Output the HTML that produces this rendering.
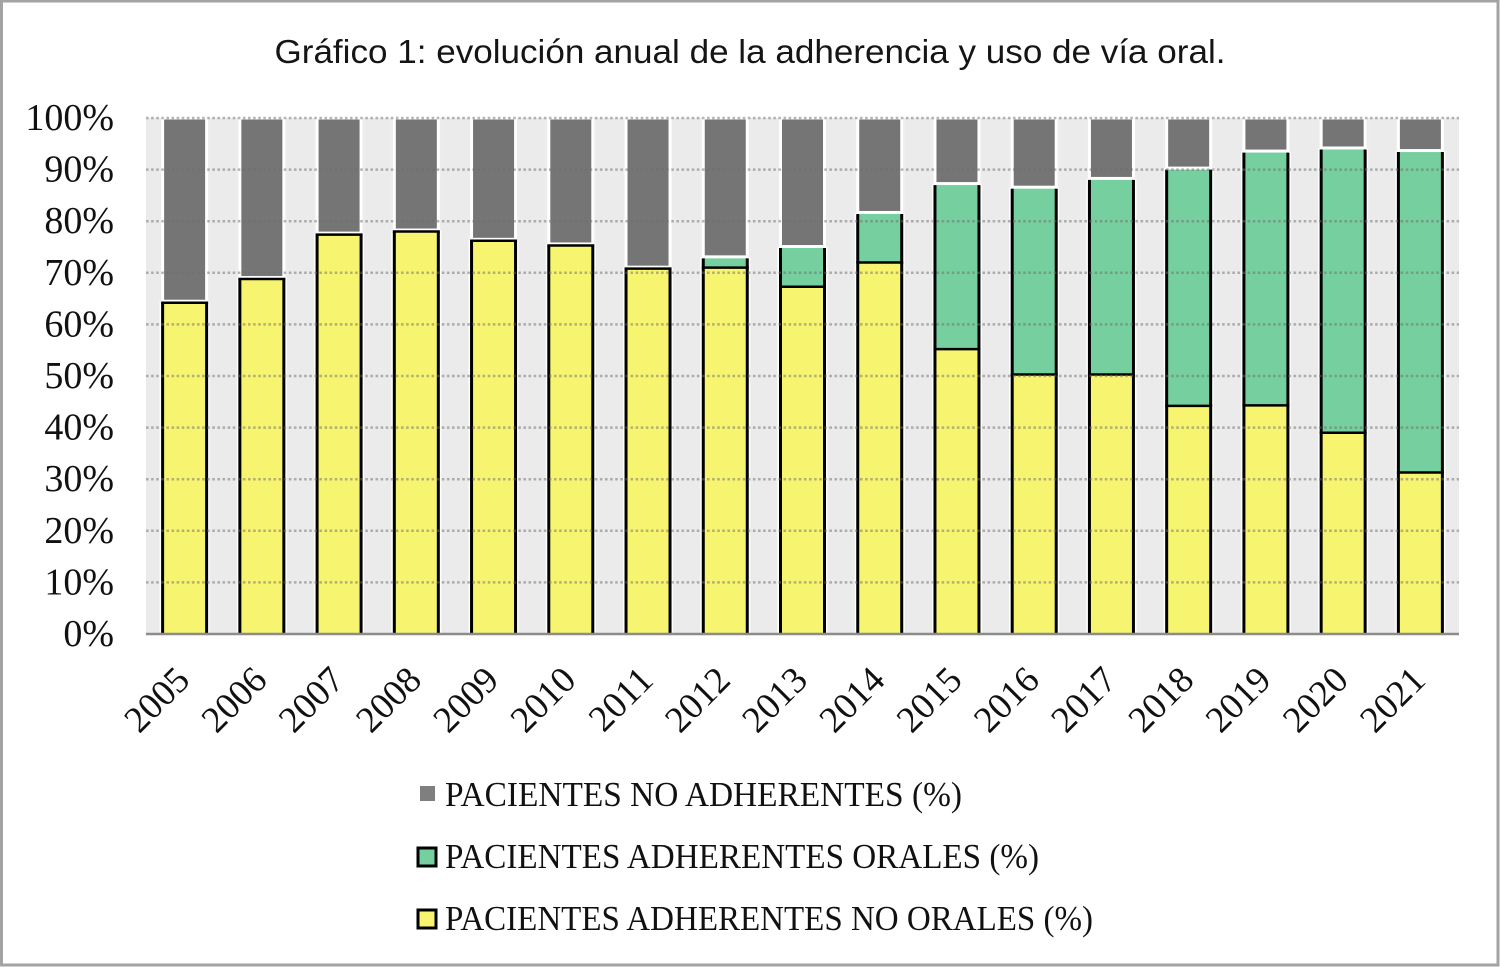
<!DOCTYPE html>
<html lang="es">
<head>
<meta charset="utf-8">
<title>Gráfico 1</title>
<style>
html,body{margin:0;padding:0;background:#fff;width:1500px;height:967px;overflow:hidden}
svg{display:block}
.tick{font-family:"Liberation Serif",serif;font-size:38px;fill:#111}
.xtick{font-family:"Liberation Serif",serif;font-size:37px;fill:#111}
.title{font-family:"Liberation Sans",sans-serif;font-size:33px;fill:#151515}
.legend{font-family:"Liberation Serif",serif;font-size:35px;fill:#111}
</style>
</head>
<body>
<svg id="chart" width="1500" height="967" viewBox="0 0 1500 967" xmlns="http://www.w3.org/2000/svg">
  <rect x="1.5" y="1" width="1496.5" height="964" fill="#fff" stroke="#a3a3a3" stroke-width="3"/>
  <text class="title" x="750" y="63" text-anchor="middle" textLength="951" lengthAdjust="spacingAndGlyphs">Gráfico 1: evolución anual de la adherencia y uso de vía oral.</text>
  <g id="plot"></g>
  <g>
    <g>
      <rect x="420" y="786" width="15" height="15" fill="#7f7f7f"/>
      <text class="legend" x="445" y="806" textLength="517" lengthAdjust="spacingAndGlyphs">PACIENTES NO ADHERENTES (%)</text>
    </g>
    <g>
      <rect x="418" y="848" width="18" height="18" fill="#76cf9f" stroke="#000" stroke-width="3"/>
      <text class="legend" x="445" y="868" textLength="594" lengthAdjust="spacingAndGlyphs">PACIENTES ADHERENTES ORALES (%)</text>
    </g>
    <g>
      <rect x="418" y="910" width="18" height="18" fill="#f7f570" stroke="#000" stroke-width="3"/>
      <text class="legend" x="445" y="930" textLength="648" lengthAdjust="spacingAndGlyphs">PACIENTES ADHERENTES NO ORALES (%)</text>
    </g>
  </g>
</svg>
<script>
const years = ['2005','2006','2007','2008','2009','2010','2011','2012','2013','2014','2015','2016','2017','2018','2019','2020','2021'];
const noOrales = [64.2,68.8,77.4,78,76.2,75.3,70.8,71,67.3,72,55.2,50.3,50.3,44.2,44.3,39,31.3];
const orales = [0,0,0,0,0,0,0,1.8,7.5,9.4,31.8,36,37.7,45.8,49,54.9,62.1];
const noAdherentes = [35.8,31.2,22.6,22,23.8,24.7,29.2,27.2,25.2,18.6,13,13.7,12,10,6.7,6.1,6.6];
const yTicks = [0,10,20,30,40,50,60,70,80,90,100];

const plot = document.getElementById('plot');
const NS = 'http://www.w3.org/2000/svg';
const left = 146, right = 1459, top0 = 118, bottom = 634;
const band = (right - left) / years.length;
const xCenter = i => left + band * (i + 0.5);
const yScale = v => bottom - (v / 100) * (bottom - top0);

function add(tag, attrs, parent) {
  const el = document.createElementNS(NS, tag);
  for (const k in attrs) el.setAttribute(k, attrs[k]);
  (parent || plot).appendChild(el);
  return el;
}

const bg = add('rect', {x: left, y: top0, width: right - left, height: bottom - top0, fill: '#ebebeb'});



years.forEach((year, i) => {
  const cx = xCenter(i);
  const g = add('g', {});
  
  

  const y1 = yScale(noOrales[i]);
  const y2 = yScale(noOrales[i] + orales[i]);
  const y3 = yScale(noOrales[i] + orales[i] + noAdherentes[i]);
  const halfOuter = 23.5, halfFill = 20.5, stroke = 3;

  const halo = add('rect', {x: cx - halfOuter - 1.5, y: top0, width: 2 * halfOuter + 3, height: bottom - top0, fill: '#fff'}, g);
  
  

  const grayHalo = add('rect', {x: cx - halfOuter - 1.5, y: top0, width: 1.5, height: Math.max(0, y2 - top0 - 1), fill: '#ebebeb'}, g);
  
  
  const grayHaloRight = add('rect', {x: cx + halfOuter, y: top0, width: 1.5, height: Math.max(0, y2 - top0 - 1), fill: '#ebebeb'}, g);
  
  

  const grayBar = add('rect', {x: cx - halfFill, y: y3 + 1.5, width: 2 * halfFill, height: Math.max(0, y2 - y3 - 4.5), fill: '#757575'}, g);
  
  

  if (orales[i] > 0) {
    const greenBar = add('rect', {x: cx - halfOuter + stroke / 2, y: y2, width: 2 * halfOuter - stroke, height: y1 - y2, fill: '#76cf9f'}, g);
    
    
  }

  const yellowBar = add('rect', {x: cx - halfOuter + stroke / 2, y: y1, width: 2 * halfOuter - stroke, height: bottom - y1, fill: '#f7f570'}, g);
  
  

  [cx - halfOuter + stroke / 2, cx + halfOuter - stroke / 2].forEach(sx => {
    const side = add('line', {x1: sx, x2: sx, y1: y2, y2: bottom, stroke: '#000', 'stroke-width': stroke}, g);
    
    
  });
  const topLine = add('line', {x1: cx - halfOuter, x2: cx + halfOuter, y1: y1, y2: y1, stroke: '#000', 'stroke-width': 2.5}, g);
  
  
});

yTicks.forEach(t => {
  const y = yScale(t);
  if (t > 0) {
    const grid = add('line', {x1: left, x2: right, y1: y, y2: y, stroke: '#6e6e6e', 'stroke-opacity': 0.5, 'stroke-width': 2.5, 'stroke-dasharray': '2.6 2.5'});
    
    
  }
  const label = add('text', {class: 'tick', x: 114, y: y + 12, 'text-anchor': 'end'});
  label.textContent = t + '%';
  
  
});

const axis = add('line', {x1: left, x2: right, y1: bottom, y2: bottom, stroke: '#8c8c8c', 'stroke-width': 2.5});



years.forEach((year, i) => {
  const cx = xCenter(i) + 7;
  const label = add('text', {class: 'xtick', x: 0, y: 0, 'text-anchor': 'end', transform: 'translate(' + cx + ',682) rotate(-45)'});
  label.textContent = year;
  
  
});
</script>
</body>
</html>
